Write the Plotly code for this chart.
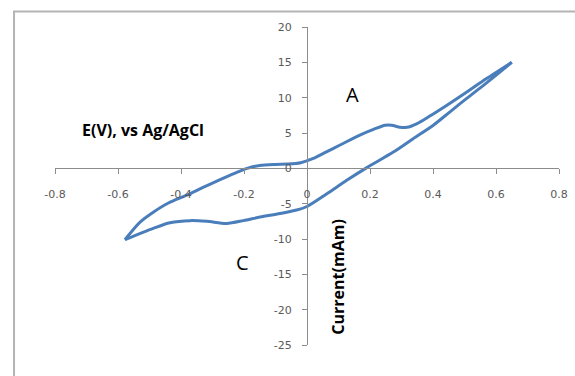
import plotly.graph_objects as go

# Forward (anodic) scan
E_fwd = [-0.578, -0.53, -0.488, -0.44, -0.382, -0.33, -0.276, -0.23, -0.19, -0.15, -0.10,
         -0.06, -0.02, 0.02, 0.06, 0.105, 0.168, 0.211, 0.248, 0.269, 0.295, 0.317, 0.348,
         0.39, 0.443, 0.507, 0.57, 0.65]
I_fwd = [-10.1, -7.6, -6.2, -4.9, -3.8, -2.7, -1.6, -0.7, 0.0, 0.4, 0.55,
         0.6, 0.8, 1.4, 2.3, 3.3, 4.7, 5.5, 6.1, 6.1, 5.8, 5.8, 6.3,
         7.4, 8.9, 10.8, 12.7, 15.0]
# Reverse (cathodic) scan
E_rev = [0.65, 0.57, 0.507, 0.454, 0.401, 0.337, 0.274, 0.19, 0.126, 0.063, 0.0, -0.033,
         -0.086, -0.149, -0.202, -0.255, -0.318, -0.371, -0.435, -0.488, -0.578]
I_rev = [15.0, 12.1, 9.9, 8.0, 6.1, 4.2, 2.3, 0.1, -1.7, -3.6, -5.4, -5.9,
         -6.4, -6.9, -7.4, -7.8, -7.5, -7.4, -7.7, -8.5, -10.1]

x_ticks = [-0.8, -0.6, -0.4, -0.2, 0, 0.2, 0.4, 0.6, 0.8]
x_tick_labels = ["-0.8", "-0.6", "-0.4", "-0.2", "0", "0.2", "0.4", "0.6", "0.8"]
y_ticks = [20, 15, 10, 5, 0, -5, -10, -15, -20, -25]
y_tick_labels = ["20", "15", "10", "5", "0", "-5", "-10", "-15", "-20", "-25"]

LINE = "#4a7ebb"
AX = "#8c8c8c"

fig = go.Figure()
for ex, iy in ((E_fwd, I_fwd), (E_rev, I_rev)):
    fig.add_trace(go.Scatter(x=ex, y=iy, mode="lines",
                             line=dict(color=LINE, width=3, shape="spline", smoothing=0.8),
                             showlegend=False, hoverinfo="skip"))

tickfont = dict(family="DejaVu Sans", size=11, color="#595959")
fig.update_layout(
    width=575, height=376,
    margin=dict(l=55, r=16, t=27, b=31, pad=0),
    paper_bgcolor="white", plot_bgcolor="white",
    xaxis=dict(range=[-0.8, 0.8], tickvals=x_ticks, ticktext=x_tick_labels,
               showgrid=False, zeroline=False, showline=True, linecolor=AX, linewidth=1,
               ticks="outside", ticklen=5, tickcolor=AX, tickfont=tickfont,
               anchor="free", position=25 / 45, ticklabelstandoff=10, automargin=False),
    yaxis=dict(range=[-25, 20], tickvals=y_ticks, ticktext=y_tick_labels,
               showgrid=False, zeroline=False, showline=True, linecolor=AX, linewidth=1,
               ticks="outside", ticklen=5, tickcolor=AX, tickfont=tickfont,
               anchor="free", position=0.5, ticklabelstandoff=8, automargin=False),
)

fig.add_shape(type="rect", xref="paper", yref="paper", x0=-0.0813, y0=-0.5, x1=1.5, y1=1.049,
              line=dict(color="#b4b4b4", width=2), fillcolor="rgba(0,0,0,0)", layer="below")

txt = dict(family="Open Sans", color="black")
fig.add_annotation(x=0.143, y=10.4, text="A", showarrow=False, font=dict(size=20, **txt))
fig.add_annotation(x=-0.206, y=-13.3, text="C", showarrow=False, font=dict(size=20, **txt))
fig.add_annotation(x=-0.52, y=5.4, text="<b>E(V), vs Ag/AgCl</b>", showarrow=False,
                   font=dict(size=16, **txt))
fig.add_annotation(x=0.1, y=-15.4, text="<b>Current(mAm)</b>", showarrow=False,
                   textangle=-90, font=dict(size=16, **txt))

fig.write_html("out.html", config={"displayModeBar": False},
               post_script="document.body.style.margin='0';")
